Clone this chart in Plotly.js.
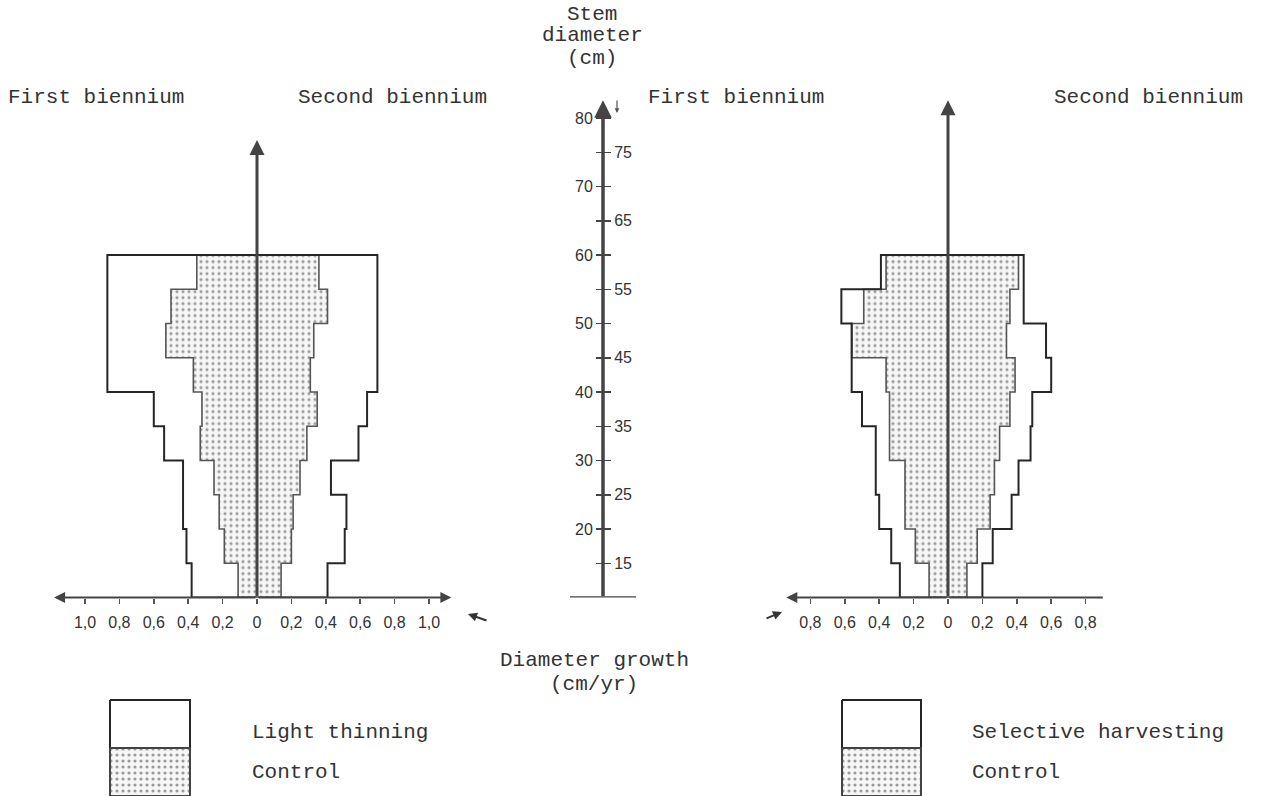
<!DOCTYPE html>
<html>
<head>
<meta charset="utf-8">
<script src="https://cdn.plot.ly/plotly-3.0.1.min.js"></script>
<style>html,body{margin:0;padding:0;background:#fff;}#chart{width:1261px;height:796px;}</style>
</head>
<body>
<div id="chart"></div>
<script>
// ---- DATA (diameter classes, cm; growth values, cm/yr) ----
const classLow  = [10, 15, 20, 25, 30, 35, 40, 45, 50, 55];
const classHigh = [15, 20, 25, 30, 35, 40, 45, 50, 55, 60];

// Left panel: Light thinning vs Control
const lightFirst      = [0.38, 0.41, 0.43, 0.43, 0.54, 0.60, 0.87, 0.87, 0.87, 0.87];
const lightSecond     = [0.41, 0.51, 0.52, 0.43, 0.59, 0.64, 0.70, 0.70, 0.70, 0.70];
const controlAFirst   = [0.11, 0.19, 0.22, 0.25, 0.33, 0.32, 0.37, 0.53, 0.50, 0.35];
const controlASecond  = [0.14, 0.20, 0.21, 0.25, 0.29, 0.35, 0.31, 0.33, 0.41, 0.36];

// Right panel: Selective harvesting vs Control
const selectiveFirst  = [0.28, 0.33, 0.40, 0.42, 0.42, 0.50, 0.56, 0.56, 0.62, 0.39];
const selectiveSecond = [0.20, 0.26, 0.37, 0.41, 0.48, 0.49, 0.60, 0.57, 0.44, 0.44];
const controlBFirst   = [0.11, 0.19, 0.25, 0.25, 0.34, 0.34, 0.36, 0.56, 0.49, 0.36];
const controlBSecond  = [0.11, 0.17, 0.245, 0.27, 0.30, 0.36, 0.39, 0.34, 0.36, 0.41];

// Tick labels
const growthTicksA = [-1, -0.8, -0.6, -0.4, -0.2, 0, 0.2, 0.4, 0.6, 0.8, 1];
const growthTextA  = ['1,0','0,8','0,6','0,4','0,2','0','0,2','0,4','0,6','0,8','1,0'];
const growthTicksB = [-0.8, -0.6, -0.4, -0.2, 0, 0.2, 0.4, 0.6, 0.8];
const growthTextB  = ['0,8','0,6','0,4','0,2','0','0,2','0,4','0,6','0,8'];
const stemTicks    = [15,20,25,30,35,40,45,50,55,60,65,70,75,80];

// ---- helpers ----
const W = 1261, H = 796;
const px = x => x / W;
const py = y => 1 - y / H;

function stepPolygon(leftVals, rightVals) {
  const xs = [], ys = [];
  for (let i = 0; i < classLow.length; i++) {
    xs.push(-leftVals[i], -leftVals[i]);
    ys.push(classLow[i], classHigh[i]);
  }
  for (let i = classLow.length - 1; i >= 0; i--) {
    xs.push(rightVals[i], rightVals[i]);
    ys.push(classHigh[i], classLow[i]);
  }
  xs.push(xs[0]); ys.push(ys[0]);
  return {xs, ys};
}

const dotPattern = {shape: '.', fgcolor: '#9a9a9a', bgcolor: '#f6f6f6', size: 6, solidity: 0.22};

function controlTrace(l, r, xa) {
  const p = stepPolygon(l, r);
  return {x: p.xs, y: p.ys, xaxis: xa, yaxis: 'y', mode: 'lines', fill: 'toself',
          fillpattern: dotPattern, fillcolor: '#f6f6f6',
          line: {color: '#555', width: 1.6}, hoverinfo: 'skip', showlegend: false};
}
function outlineTrace(l, r, xa) {
  const p = stepPolygon(l, r);
  return {x: p.xs, y: p.ys, xaxis: xa, yaxis: 'y', mode: 'lines',
          line: {color: '#262626', width: 2}, hoverinfo: 'skip', showlegend: false};
}

const traces = [
  controlTrace(controlAFirst, controlASecond, 'x'),
  outlineTrace(lightFirst, lightSecond, 'x'),
  controlTrace(controlBFirst, controlBSecond, 'x2'),
  outlineTrace(selectiveFirst, selectiveSecond, 'x2'),
  // anchors for the central stem-diameter scale
  {x: [0], y: [10], xaxis: 'x', yaxis: 'y3', mode: 'markers', marker: {opacity: 0}, hoverinfo: 'skip', showlegend: false},
  {x: [0], y: [10], xaxis: 'x', yaxis: 'y4', mode: 'markers', marker: {opacity: 0}, hoverinfo: 'skip', showlegend: false},
  // legend swatches (pixel-space overlay)
  {x: [110,190,190,110,110], y: [700,700,748,748,700], xaxis: 'x3', yaxis: 'y5', mode: 'lines',
   line: {color: '#262626', width: 2}, hoverinfo: 'skip', showlegend: false},
  {x: [110,190,190,110,110], y: [748,748,796,796,748], xaxis: 'x3', yaxis: 'y5', mode: 'lines', fill: 'toself',
   fillpattern: dotPattern, fillcolor: '#f6f6f6', line: {color: '#444', width: 2}, hoverinfo: 'skip', showlegend: false},
  {x: [842,921,921,842,842], y: [700,700,748,748,700], xaxis: 'x3', yaxis: 'y5', mode: 'lines',
   line: {color: '#262626', width: 2}, hoverinfo: 'skip', showlegend: false},
  {x: [842,921,921,842,842], y: [748,748,796,796,748], xaxis: 'x3', yaxis: 'y5', mode: 'lines', fill: 'toself',
   fillpattern: dotPattern, fillcolor: '#f6f6f6', line: {color: '#444', width: 2}, hoverinfo: 'skip', showlegend: false}
];

const yBottomPx = 597.5, pxPerCm = 6.85;
const yMin = 10, yMax = 84;
const yDomain = [py(yBottomPx), py(yBottomPx - (yMax - yMin) * pxPerCm)];

const tickFont = {family: 'Liberation Sans, Arial, sans-serif', size: 16, color: '#333'};
const stemFont = {family: 'Liberation Sans, Arial, sans-serif', size: 16, color: '#333'};
const monoFont = {family: 'Liberation Mono, DejaVu Sans Mono, monospace', size: 21, color: '#333'};

function xAxis(domain, range, vals, text) {
  return {domain, range, anchor: 'y', showgrid: false, zeroline: false, showline: false,
          ticks: 'outside', ticklen: 5, tickwidth: 1.5, tickcolor: '#555',
          tickvals: vals, ticktext: text, tickfont: tickFont, ticklabelstandoff: 5, fixedrange: true};
}

const centerX = px(603);
const layout = {
  width: W, height: H,
  margin: {l: 0, r: 0, t: 0, b: 0},
  paper_bgcolor: '#fff', plot_bgcolor: 'rgba(0,0,0,0)',
  showlegend: false,
  xaxis: xAxis([px(257 - 1.25 * 172), px(257 + 1.25 * 172)], [-1.25, 1.25], growthTicksA, growthTextA),
  xaxis2: xAxis([px(948 - 172), px(948 + 172)], [-1, 1], growthTicksB, growthTextB),
  xaxis3: {domain: [0, 1], range: [0, W], anchor: 'y5', visible: false, fixedrange: true},
  yaxis: {domain: yDomain, range: [yMin, yMax], anchor: 'x', visible: false, fixedrange: true},
  yaxis3: {domain: yDomain, range: [yMin, yMax], overlaying: 'y', anchor: 'free', position: centerX, side: 'left',
           showgrid: false, zeroline: false, showline: false, ticks: 'outside', ticklen: 7, tickwidth: 1.5, tickcolor: '#444',
           tickvals: stemTicks, ticktext: stemTicks.map(v => v % 10 === 0 ? String(v) : ''), tickfont: stemFont, fixedrange: true},
  yaxis4: {domain: yDomain, range: [yMin, yMax], overlaying: 'y', anchor: 'free', position: centerX, side: 'right',
           showgrid: false, zeroline: false, showline: false, ticks: 'outside', ticklen: 7, tickwidth: 1.5, tickcolor: '#444',
           tickvals: stemTicks, ticktext: stemTicks.map(v => v % 10 === 5 ? String(v) : ''), tickfont: stemFont, fixedrange: true},
  yaxis5: {domain: [0, py(692)], range: [796, 692], anchor: 'x3', visible: false, fixedrange: true},
  shapes: [
    {type: 'line', xref: 'paper', yref: 'y', x0: px(570), x1: px(636), y0: 10, y1: 10, line: {color: '#444', width: 2.5}}
  ],
  annotations: []
};

const A = layout.annotations;
const axisArrow = (xref, yref, x, y, ax, ay, head, width) => ({
  xref, yref, x, y, axref: xref, ayref: yref, ax, ay,
  showarrow: true, arrowhead: head, arrowsize: 1, arrowwidth: width, arrowcolor: '#444', text: ''});

// panel axes with arrowheads
A.push(axisArrow('x', 'y', -1.18, 10, 0, 10, 2, 2.2));
A.push(axisArrow('x', 'y', 1.13, 10, 0, 10, 2, 2.2));
A.push(axisArrow('x', 'y', 0, 76.8, 0, 10, 2, 3));
A.push(axisArrow('x2', 'y', -0.94, 10, 0, 10, 2, 2.2));
A.push(axisArrow('x2', 'y', 0.90, 10, 0, 10, 0, 2.2));
A.push(axisArrow('x2', 'y', 0, 82.6, 0, 10, 2, 3));
// central stem-diameter axis
A.push({xref: 'paper', yref: 'y', x: centerX, y: 82.6, axref: 'pixel', ayref: 'y', ax: 0, ay: 10,
        showarrow: true, arrowhead: 2, arrowsize: 1, arrowwidth: 3.5, arrowcolor: '#444', text: ''});
// small pointer arrows
A.push({xref: 'paper', yref: 'paper', x: px(617), y: py(113), ax: 0, ay: -14, showarrow: true, arrowhead: 2, arrowsize: 0.8, arrowwidth: 1.2, arrowcolor: '#555', text: ''});
A.push({xref: 'paper', yref: 'paper', x: px(468), y: py(614), ax: 20, ay: 7, showarrow: true, arrowhead: 2, arrowsize: 0.9, arrowwidth: 2, arrowcolor: '#333', text: ''});
A.push({xref: 'paper', yref: 'paper', x: px(782), y: py(612), ax: -17, ay: 7, showarrow: true, arrowhead: 2, arrowsize: 0.9, arrowwidth: 2, arrowcolor: '#333', text: ''});

const txt = (s, x, y, xanchor) => ({xref: 'paper', yref: 'paper', x: px(x), y: py(y), text: s, showarrow: false,
  xanchor: xanchor || 'left', yanchor: 'middle', font: monoFont});

A.push(txt('First biennium', 6, 97));
A.push(txt('Second biennium', 296, 97));
A.push(txt('First biennium', 646, 97));
A.push(txt('Second biennium', 1052, 97));
A.push(txt('Stem', 592, 14, 'center'));
A.push(txt('diameter', 592, 36, 'center'));
A.push(txt('(cm)', 592, 58, 'center'));
A.push(txt('Diameter growth', 594, 660, 'center'));
A.push(txt('(cm/yr)', 594, 684, 'center'));
A.push(txt('Light thinning', 250, 732));
A.push(txt('Control', 250, 772));
A.push(txt('Selective harvesting', 970, 732));
A.push(txt('Control', 970, 772));

Plotly.newPlot('chart', traces, layout, {staticPlot: true, displayModeBar: false});
</script>
</body>
</html>
